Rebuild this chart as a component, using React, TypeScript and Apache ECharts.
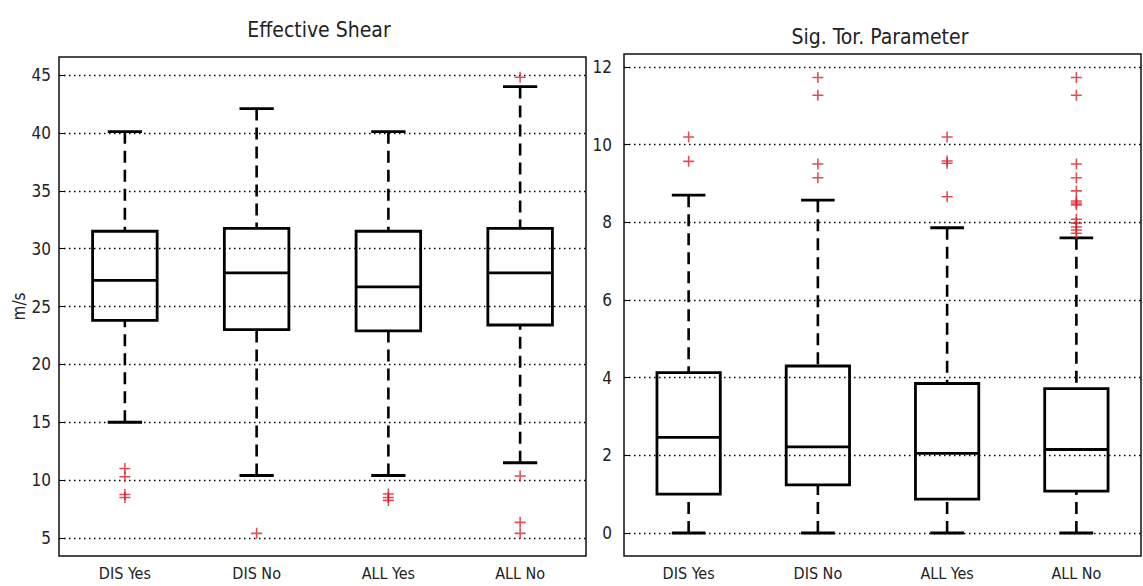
import React, { useEffect, useRef } from "react";
import * as echarts from "echarts";

const categories = ["DIS Yes", "DIS No", "ALL Yes", "ALL No"];

// Effective Shear (m/s): [lower whisker, Q1, median, Q3, upper whisker]
const shearBoxes = [
  [15.0, 23.8, 27.25, 31.5, 40.1],
  [10.4, 23.0, 27.9, 31.75, 42.1],
  [10.4, 22.9, 26.7, 31.5, 40.1],
  [11.5, 23.4, 27.9, 31.75, 44.0],
];
// outliers: [category index, value]
const shearOutliers = [
  [0, 11.0], [0, 10.3], [0, 8.75], [0, 8.5],
  [1, 5.4],
  [2, 8.8], [2, 8.5], [2, 8.25],
  [3, 44.8], [3, 10.35], [3, 6.35], [3, 5.4],
];

// Sig. Tor. Parameter
const stpBoxes = [
  [0, 1.0, 2.46, 4.13, 8.7],
  [0, 1.24, 2.22, 4.3, 8.57],
  [0, 0.87, 2.05, 3.85, 7.86],
  [0, 1.08, 2.15, 3.72, 7.6],
];
const stpOutliers = [
  [0, 10.2], [0, 9.57],
  [1, 11.73], [1, 11.27], [1, 9.5], [1, 9.15],
  [2, 10.2], [2, 9.58], [2, 9.52], [2, 8.66],
  [3, 11.73], [3, 11.27], [3, 9.5], [3, 9.15], [3, 8.81], [3, 8.55], [3, 8.5], [3, 8.45],
  [3, 8.08], [3, 7.98], [3, 7.88], [3, 7.8], [3, 7.72],
];

const shearTicks = { min: 5, max: 45, interval: 5 };
const stpTicks = { min: 0, max: 12, interval: 2 };

const FONT = "'Liberation Sans Narrow', 'DejaVu Sans Condensed', 'Roboto Condensed', sans-serif";
const PLUS = "path://M4.3,0h1.4v10h-1.4z M0,4.3h10v1.4h-10z";

const renderBox = (params: any, api: any) => {
  const x = api.value(0);
  const low = api.coord([x, api.value(1)]);
  const q1 = api.coord([x, api.value(2)]);
  const med = api.coord([x, api.value(3)]);
  const q3 = api.coord([x, api.value(4)]);
  const high = api.coord([x, api.value(5)]);
  const band = api.size([1, 0])[0];
  const bw = band * 0.49;
  const cw = band * 0.26;
  const cx = low[0];
  const solid = { stroke: "#000", lineWidth: 2.8, fill: null };
  const dash = { stroke: "#000", lineWidth: 2.6, lineDash: [12, 7], fill: null };
  return {
    type: "group",
    children: [
      { type: "line", shape: { x1: cx, y1: high[1], x2: cx, y2: q3[1] }, style: dash },
      { type: "line", shape: { x1: cx, y1: low[1], x2: cx, y2: q1[1] }, style: dash },
      { type: "line", shape: { x1: cx - cw / 2, y1: high[1], x2: cx + cw / 2, y2: high[1] }, style: solid },
      { type: "line", shape: { x1: cx - cw / 2, y1: low[1], x2: cx + cw / 2, y2: low[1] }, style: solid },
      {
        type: "rect",
        shape: { x: cx - bw / 2, y: q3[1], width: bw, height: q1[1] - q3[1] },
        style: { fill: "none", stroke: "#000", lineWidth: 2.8 },
      },
      { type: "line", shape: { x1: cx - bw / 2, y1: med[1], x2: cx + bw / 2, y2: med[1] }, style: solid },
    ],
  };
};

const yAxisBase = (t: any, gridIndex: number, margin: number) => ({
  type: "value",
  gridIndex,
  min: t.min,
  max: t.max,
  interval: t.interval,
  axisLine: { show: false },
  axisTick: { show: true, inside: true, length: 5, lineStyle: { color: "#000" } },
  axisLabel: { color: "#222", fontSize: 17, fontFamily: FONT, margin },
  splitLine: { show: true, lineStyle: { color: "#000", width: 1.4, type: [1.5, 3.5] } },
});

const xAxisBase = (gridIndex: number, margin: number) => ({
  type: "category",
  gridIndex,
  data: categories,
  axisLine: { show: false },
  axisTick: { show: false },
  axisLabel: { color: "#222", fontSize: 16, fontFamily: FONT, margin },
  splitLine: { show: false },
});

export default function App() {
  const ref = useRef<HTMLDivElement>(null);
  useEffect(() => {
    if (!ref.current) return;
    const chart = echarts.init(ref.current, null, { renderer: "svg" });
    const toBox = (b: number[][]) => b.map((r, i) => [i, ...r]);
    chart.setOption({
      animation: false,
      backgroundColor: "#fff",
      grid: [
        { left: 59, right: 557, top: 75, bottom: 48 },
        { left: 624, right: 2, top: 67, bottom: 53 },
      ],
      xAxis: [xAxisBase(0, 27), xAxisBase(1, 32)],
      yAxis: [
        {
          ...yAxisBase(shearTicks, 0, 8),
          name: "m/s",
          nameLocation: "middle",
          nameGap: 29,
          nameTextStyle: { color: "#222", fontSize: 17, fontFamily: FONT },
        },
        yAxisBase(stpTicks, 1, 12),
      ],
      graphic: [
        {
          type: "rect",
          shape: { x: 59, y: 57, width: 527, height: 499 },
          style: { fill: "none", stroke: "#111", lineWidth: 1.5 },
          z: 10,
        },
        {
          type: "rect",
          shape: { x: 624, y: 54, width: 517, height: 502 },
          style: { fill: "none", stroke: "#111", lineWidth: 1.5 },
          z: 10,
        },
        {
          type: "text",
          x: 319,
          y: 30,
          style: { text: "Effective Shear", fontSize: 21, fontFamily: FONT, fill: "#222", textAlign: "center", textVerticalAlign: "middle" },
        },
        {
          type: "text",
          x: 880,
          y: 37,
          style: { text: "Sig. Tor. Parameter", fontSize: 21, fontFamily: FONT, fill: "#222", textAlign: "center", textVerticalAlign: "middle" },
        },
      ],
      series: [
        {
          type: "custom",
          xAxisIndex: 0,
          yAxisIndex: 0,
          renderItem: renderBox,
          encode: { x: 0, y: [1, 2, 3, 4, 5] },
          data: toBox(shearBoxes),
          z: 3,
        },
        {
          type: "scatter",
          xAxisIndex: 0,
          yAxisIndex: 0,
          symbol: PLUS,
          symbolSize: 11,
          itemStyle: { color: "#d8202a" },
          data: shearOutliers,
          z: 4,
        },
        {
          type: "custom",
          xAxisIndex: 1,
          yAxisIndex: 1,
          renderItem: renderBox,
          encode: { x: 0, y: [1, 2, 3, 4, 5] },
          data: toBox(stpBoxes),
          z: 3,
        },
        {
          type: "scatter",
          xAxisIndex: 1,
          yAxisIndex: 1,
          symbol: PLUS,
          symbolSize: 11,
          itemStyle: { color: "#d8202a" },
          data: stpOutliers,
          z: 4,
        },
      ],
    });
    return () => chart.dispose();
  }, []);
  return <div ref={ref} style={{ position: "absolute", left: 0, top: 0, width: 1143, height: 586 }} />;
}
